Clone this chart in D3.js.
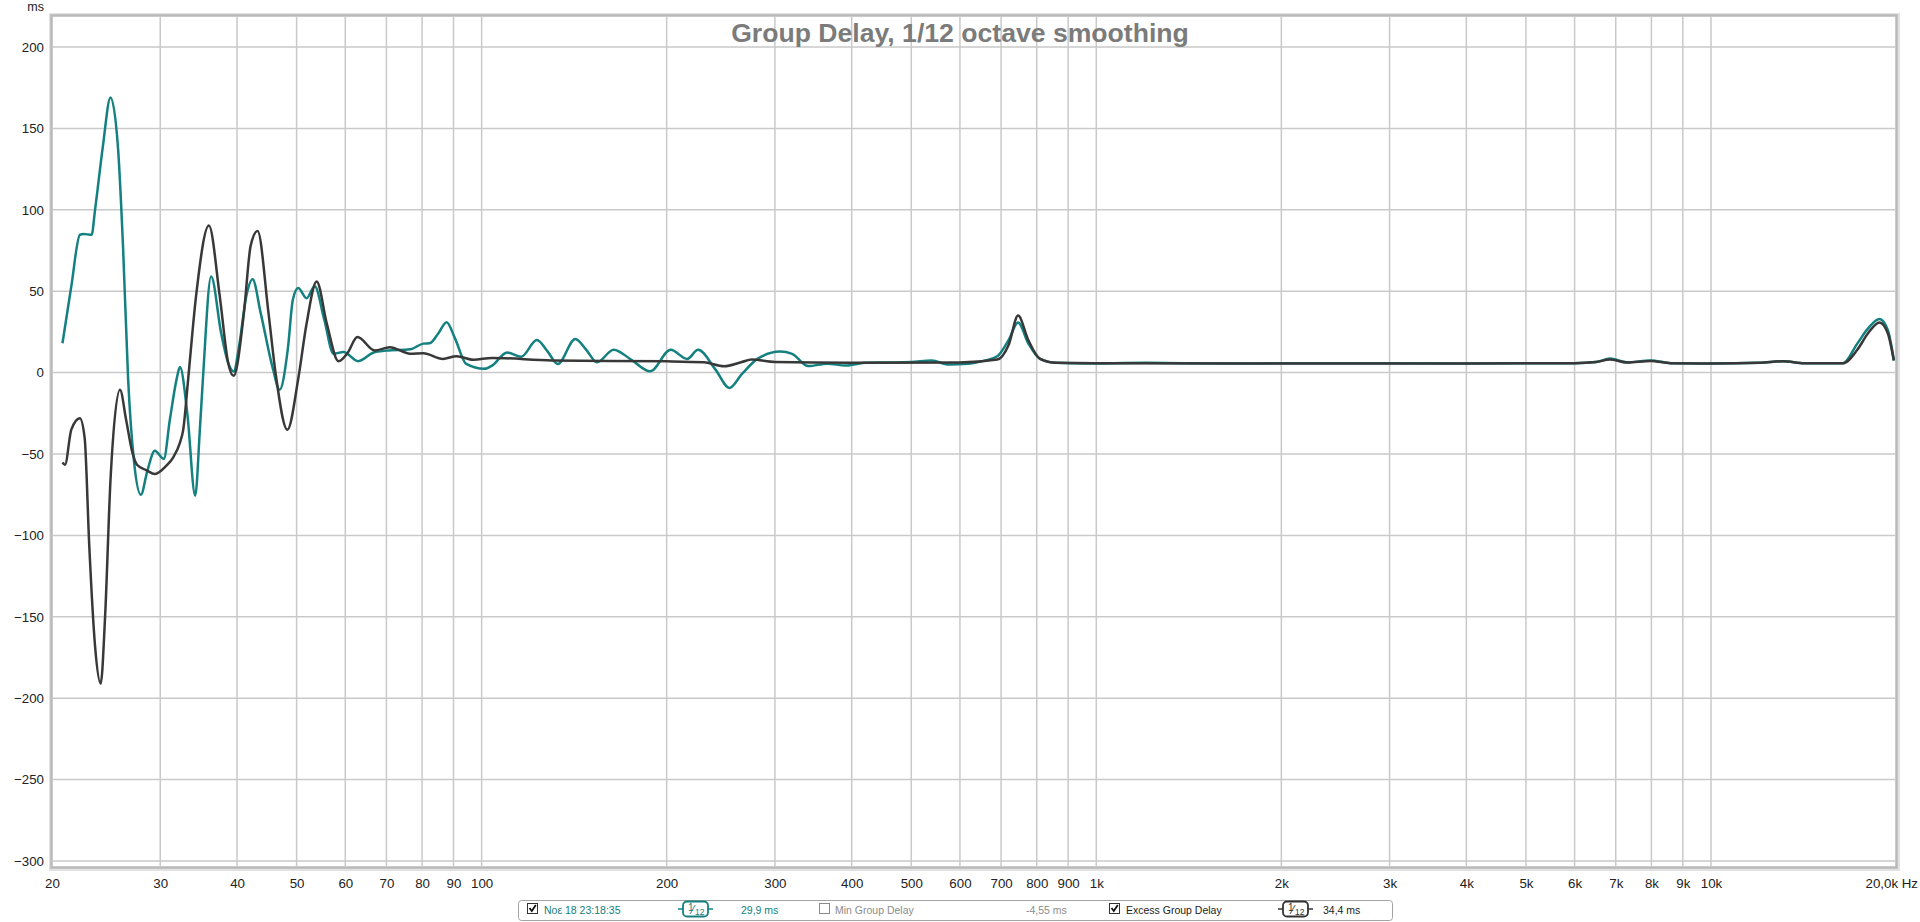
<!DOCTYPE html>
<html>
<head>
<meta charset="utf-8">
<script src="https://cdn.jsdelivr.net/npm/d3@7/dist/d3.min.js"></script>
<style>
  html, body { margin: 0; padding: 0; background: #fff; }
  svg { display: block; font-family: "Liberation Sans", Arial, sans-serif; }
</style>
</head>
<body>
<svg id="chart" width="1920" height="922"></svg>
<script>
// ---------- data ----------
const tealFreq = [20.8,21.5,22.2,22.5,23.2,23.5,24.2,24.9,25.6,26.1,26.6,27.2,27.9,28.6,29.4,30.4,31.1,31.9,32.3,33.2,34.2,34.8,35.2,36.3,37.7,38.7,39.5,40.3,41.4,42.4,43.7,45.8,46.9,48.4,49.3,50.3,51.9,53.5,55.5,57.4,59.6,63,66.6,70,76.5,80.4,82.3,85,87.7,90.5,94.4,101,104,110,116,123,128,133,142,148,154,164,175,188,203,216,225,240,253,265,281,306,320,340,365,391,420,460,500,540,575,620,660,690,720,746,775,810,860,950,1200,1600,2500,4000,6000,6500,6850,7300,7980,8600,10000,12000,13100,14200,16400,17300,18000,18800,19400,19840];
const tealMs   = [18,53,84.6,85.2,84.6,100,139,169,139,77,-4,-55,-75,-60,-48,-53,-29,-4,3.4,-25,-75.6,-35,-4,59,24,6,0.7,16,46.7,57.4,36.7,1.7,-10.6,15,44.7,51.9,45.7,53,32,11.6,12.6,7,12.2,13.5,14.3,17.8,18,24,31,21,5.3,2.3,4.3,12.4,9.8,20,13,5.3,20.7,14,6.3,14.1,8,0.8,14,8.4,14,2,-9.4,-1,8.4,12.9,11.5,4,5.5,4.3,6,6.2,6.5,7.4,5,5.5,7.5,10,20,30.8,18,8.4,6,5.6,6,5.6,5.8,5.6,5.8,6.5,8.6,6.3,7.5,5.8,5.6,6,7,5.8,5.8,17.8,27,33,26,7.4];

const blackFreq = [20.8,21.0,21.5,22.2,22.6,23.0,23.5,24.0,24.4,24.9,25.8,26.4,27.0,27.5,28.5,29.4,30.7,31.5,32.3,32.7,33.3,34.3,36.0,37.5,38.7,39.5,41.0,42.1,43.2,45.0,46.2,48.3,50.3,51.9,53.9,56,58.5,60.5,62.8,67,70.9,76.5,80.4,86.5,91,97,104,130,200,230,248,265,275,300,400,600,690,720,746,775,810,860,1000,2000,4000,6000,6500,6850,7300,7980,8600,10000,12000,13100,14200,16400,17300,18000,18800,19400,19840];
const blackMs   = [-55.2,-56.6,-35,-28,-40,-107,-168,-191,-150,-66,-10.6,-29,-48.4,-56.6,-60,-62.3,-57.2,-52,-43,-35,-4.4,46.7,90.3,46.7,5.8,-2,35,78,87,36.7,0,-35.1,-4,30,56,30,7,12,21.8,13.6,15.6,11.6,11.9,8.4,10.1,7.9,9,7.5,6.9,6.3,3.9,6.5,8,6.5,6,6.2,8,17,35,20,8.4,6,5.8,5.6,5.6,5.8,6.5,8,6.2,7.2,5.8,5.6,6,7,5.8,5.8,14,24,30.8,24,7.4];

const xTickValues = [20,30,40,50,60,70,80,90,100,200,300,400,500,600,700,800,900,1000,2000,3000,4000,5000,6000,7000,8000,9000,10000,20000];
const xTickLabels = ["20","30","40","50","60","70","80","90","100","200","300","400","500","600","700","800","900","1k","2k","3k","4k","5k","6k","7k","8k","9k","10k","20,0k Hz"];
const yTickValues = [200,150,100,50,0,-50,-100,-150,-200,-250,-300];

const titleText = "Group Delay, 1/12 octave smoothing";
const legendName = "Noε 18 23:18:35";
const legendTealValue = "29,9 ms";
const legendMinName = "Min Group Delay";
const legendMinValue = "-4,55 ms";
const legendExcessName = "Excess Group Delay";
const legendExcessValue = "34,4 ms";

// ---------- layout ----------
const TEAL = "#148080", DARK = "#383838", GRID = "#c9c9c9";
const L = 52, R = 1896, T = 16, B = 867;
const svg = d3.select("#chart");
svg.append("rect").attr("width",1920).attr("height",922).attr("fill","#fff");

const x = d3.scaleLog().domain([20, 20000]).range([L, R]);
const y = d3.scaleLinear().domain([-300, 200]).range([861, 47]);

// frame shadow + border
svg.append("rect").attr("x", L-1).attr("y", T-1).attr("width", R-L+3).attr("height", B-T+3)
  .attr("fill","none").attr("stroke","#e2e2e2").attr("stroke-width",4);
svg.append("rect").attr("x", L-0.5).attr("y", T-0.5).attr("width", R-L+1).attr("height", B-T+1)
  .attr("fill","#fff").attr("stroke","#b9b9b9").attr("stroke-width",2.5);

// grid
const g = svg.append("g");
g.selectAll("line.vx").data(xTickValues.filter(v => v > 20 && v < 20000)).join("line")
  .attr("x1", d => x(d)).attr("x2", d => x(d)).attr("y1", T+1).attr("y2", B-1)
  .attr("stroke", GRID).attr("stroke-width", 1.5);
g.selectAll("line.hy").data(yTickValues).join("line")
  .attr("x1", L+1).attr("x2", R-1).attr("y1", d => y(d)).attr("y2", d => y(d))
  .attr("stroke", GRID).attr("stroke-width", 1.5);

// axes (labels only)
const yAxis = d3.axisLeft(y).tickValues(yTickValues).tickSize(0).tickPadding(8);
const ya = svg.append("g").attr("transform", `translate(${L},0)`).call(yAxis);
ya.select(".domain").remove();
ya.selectAll("text").attr("font-size", 13.3).attr("fill", "#222").attr("font-family", "'Liberation Sans', Arial, sans-serif");

const xAxis = d3.axisBottom(x).tickValues(xTickValues).tickSize(0).tickPadding(12)
  .tickFormat((d,i) => xTickLabels[i]);
const xa = svg.append("g").attr("transform", `translate(0,${B})`).call(xAxis);
xa.select(".domain").remove();
xa.selectAll("text").attr("font-size", 13.3).attr("fill", "#222").attr("font-family", "'Liberation Sans', Arial, sans-serif");
xa.selectAll(".tick").filter(d => d === 20000).select("text").attr("text-anchor","start").attr("dx", -31);

svg.append("text").attr("x", 44).attr("y", 11).attr("text-anchor","end")
  .attr("font-size", 12.5).attr("fill","#222").text("ms");

// title
svg.append("text").attr("x", 960).attr("y", 42).attr("text-anchor","middle")
  .attr("font-size", 26.6).attr("font-weight","bold").attr("fill","#7b7b7b").text(titleText);

// curves
svg.append("clipPath").attr("id","plotclip").append("rect")
  .attr("x", L+1).attr("y", T+1).attr("width", R-L-2).attr("height", B-T-2);
const line = d3.line().x(d => x(d[0])).y(d => y(d[1])).curve(d3.curveMonotoneX);
const tealData = tealFreq.map((f,i) => [f, tealMs[i]]);
const blackData = blackFreq.map((f,i) => [f, blackMs[i]]);
const cg = svg.append("g").attr("clip-path","url(#plotclip)");
cg.append("path").datum(tealData).attr("d", line).attr("fill","none")
  .attr("stroke", TEAL).attr("stroke-width", 2.5).attr("stroke-linejoin","round");
cg.append("path").datum(blackData).attr("d", line).attr("fill","none")
  .attr("stroke", DARK).attr("stroke-width", 2.5).attr("stroke-linejoin","round");

// legend
const lg = svg.append("g").attr("font-size", 10.5);
lg.append("rect").attr("x", 518.5).attr("y", 900.5).attr("width", 874).attr("height", 20)
  .attr("rx", 3).attr("fill","#fff").attr("stroke","#a3a3a3");
const TY = 913.5;
function checkbox(cx, checked) {
  lg.append("rect").attr("x", cx+0.5).attr("y", 903.5).attr("width", 10).attr("height", 10)
    .attr("fill","#fff").attr("stroke", checked ? "#333" : "#8a8a8a").attr("stroke-width",1);
  if (checked) {
    lg.append("path").attr("d", `M${cx+2.5},${908} L${cx+4.8},${911} L${cx+8.8},${905}`)
      .attr("fill","none").attr("stroke","#111").attr("stroke-width",1.8);
  }
}
function smoothIcon(x0, color) {
  lg.append("line").attr("x1", x0-5).attr("x2", x0).attr("y1", 909).attr("y2", 909).attr("stroke", color).attr("stroke-width",1.5);
  lg.append("line").attr("x1", x0+25).attr("x2", x0+30).attr("y1", 909).attr("y2", 909).attr("stroke", color).attr("stroke-width",1.5);
  lg.append("rect").attr("x", x0).attr("y", 901.5).attr("width", 25).attr("height", 15).attr("rx", 4)
    .attr("fill","#fff").attr("stroke", color).attr("stroke-width", 1.8);
  lg.append("text").attr("x", x0+5).attr("y", 911).attr("font-size", 10).attr("fill", color).text("1");
  lg.append("text").attr("x", x0+9).attr("y", 914).attr("font-size", 12).attr("fill", color).text("⁄");
  lg.append("text").attr("x", x0+12).attr("y", 915).attr("font-size", 8.5).attr("fill", color).text("12");
}
checkbox(527, true);
lg.append("text").attr("x", 544).attr("y", TY).attr("fill", TEAL).text(legendName);
smoothIcon(683, TEAL);
lg.append("text").attr("x", 741).attr("y", TY).attr("fill", TEAL).text(legendTealValue);
checkbox(819, false);
lg.append("text").attr("x", 835).attr("y", TY).attr("fill", "#8c8c8c").text(legendMinName);
lg.append("text").attr("x", 1026).attr("y", TY).attr("fill", "#8c8c8c").text(legendMinValue);
checkbox(1109, true);
lg.append("text").attr("x", 1126).attr("y", TY).attr("fill", "#222").text(legendExcessName);
smoothIcon(1283, "#333");
lg.append("text").attr("x", 1323).attr("y", TY).attr("fill", "#222").text(legendExcessValue);
</script>
</body>
</html>
